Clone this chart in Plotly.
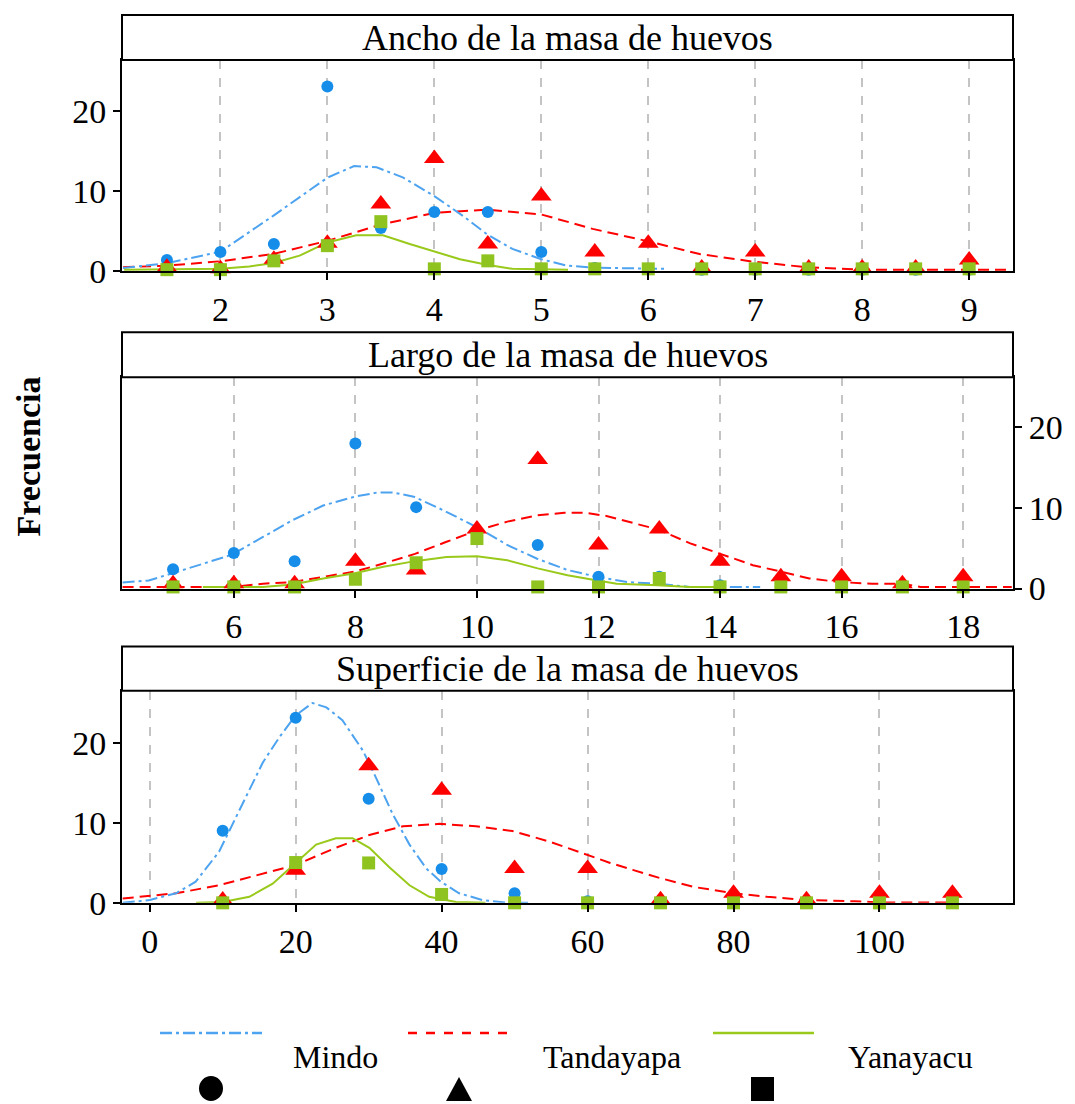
import plotly.graph_objects as go

W, H = 1075, 1104
HEFF = 1084  # effective vertical scale observed in the rendered page
FONT = "Liberation Serif"

# ---------------- Panel 1: Ancho ----------------
x1_pts = [1.5, 2, 2.5, 3, 3.5, 4, 4.5, 5, 5.5, 6, 6.5, 7, 7.5, 8, 8.5, 9]
mindo1 = [1.4, 2.4, 3.4, 23.1, 5.4, 7.4, 7.4, 2.4, 0.4, 0.3, 0.2, 0.2, 0.2, 0.2, 0.2, 0.2]
tanda1 = [0.5, 0.3, 1.5, 3.5, 8.4, 14.1, 3.4, 9.4, 2.4, 3.5, 0.4, 2.4, 0.4, 0.4, 0.4, 1.4]
yana1 = [0.2, 0.2, 1.3, 3.2, 6.2, 0.3, 1.3, 0.3, 0.3, 0.3, 0.3, 0.3, 0.3, 0.3, 0.3, 0.3]
m1_cx = [1.09, 1.5, 2.0, 2.49, 3.0, 3.25, 3.46, 3.71, 4.0, 4.27, 4.49, 4.73, 5.0, 5.24, 5.48, 6.0, 6.15]
m1_cy = [0.4, 1.0, 2.45, 6.9, 11.7, 13.15, 13.0, 11.7, 9.4, 6.9, 4.65, 2.8, 1.5, 0.7, 0.45, 0.3, 0.3]
t1_cx = [1.09, 1.5, 2.0, 2.49, 3.0, 3.49, 4.0, 4.49, 5.0, 5.48, 5.98, 6.48, 6.98, 7.48, 7.98, 9.0, 9.39]
t1_cy = [0.5, 0.7, 1.25, 2.15, 3.8, 5.8, 7.3, 7.7, 7.1, 5.3, 3.8, 2.15, 1.2, 0.5, 0.2, 0.2, 0.2]
g1_cx = [1.1, 2.0, 2.27, 2.49, 2.74, 3.0, 3.27, 3.52, 3.77, 4.0, 4.24, 4.49, 4.73, 5.25]
g1_cy = [0.2, 0.3, 0.6, 1.0, 1.95, 3.6, 4.5, 4.5, 3.4, 2.5, 1.5, 0.8, 0.3, 0.2]

# ---------------- Panel 2: Largo ----------------
x2_pts = [5, 6, 7, 8, 9, 10, 11, 12, 13, 14, 15, 16, 17, 18]
mindo2 = [2.4, 4.4, 3.4, 18.0, 10.1, 6.3, 5.4, 1.45, 1.45, 0.4, 0.2, 0.2, 0.2, 0.2]
tanda2 = [0.6, 0.6, 0.6, 3.4, 2.3, 7.4, 16.0, 5.4, 7.4, 3.4, 1.45, 1.45, 0.6, 1.45]
yana2 = [0.2, 0.2, 0.2, 1.15, 3.2, 6.2, 0.2, 0.2, 1.25, 0.2, 0.2, 0.2, 0.2, 0.2]
m2_cx = [4.17, 4.6, 4.95, 5.49, 5.97, 6.48, 6.97, 7.47, 7.99, 8.35, 8.63, 8.96, 9.45, 10.0, 10.5,
         10.99, 11.49, 11.98, 12.47, 12.97, 13.5, 14.66]
m2_cy = [0.75, 1.0, 1.8, 3.1, 4.2, 6.4, 8.5, 10.3, 11.4, 11.9, 11.9, 11.4, 9.7, 7.6, 5.4,
         3.7, 2.3, 1.45, 0.8, 0.6, 0.2, 0.2]
t2_cx = [4.17, 6.0, 6.48, 6.97, 7.47, 7.99, 8.46, 8.98, 9.5, 10.0, 10.5, 11.0, 11.44, 11.78, 12.13,
         12.59, 12.99, 13.51, 14.0, 14.54, 15.0, 15.47, 15.97, 16.5, 17.0, 17.3, 18.0, 18.8]
t2_cy = [0.2, 0.2, 0.6, 0.8, 1.45, 2.1, 3.1, 4.3, 5.8, 7.2, 8.3, 9.1, 9.4, 9.4, 9.0,
         8.1, 7.3, 5.6, 4.35, 2.9, 2.1, 1.25, 0.8, 0.6, 0.6, 0.2, 0.2, 0.2]
g2_cx = [5.49, 6.48, 6.97, 7.47, 7.99, 8.46, 8.98, 9.5, 10.0, 10.5, 11.0, 11.49, 11.98, 12.3, 12.97, 13.5, 14.0]
g2_cy = [0.2, 0.2, 0.5, 1.25, 1.9, 2.7, 3.4, 3.9, 4.0, 3.5, 2.5, 1.65, 1.0, 0.6, 0.4, 0.2, 0.2]

# ---------------- Panel 3: Superficie ----------------
x3_pts = [10, 20, 30, 40, 50, 60, 70, 80, 90, 100, 110]
mindo3 = [9.05, 23.2, 13.05, 4.25, 1.2, 0.2, 0.2, 0.2, 0.2, 0.2, 0.2]
tanda3 = [0.35, 4.1, 17.2, 14.1, 4.3, 4.3, 0.4, 1.2, 0.4, 1.2, 1.2]
yana3 = [0.0, 5.05, 5.0, 1.05, 0.0, 0.0, 0.0, 0.0, 0.0, 0.0, 0.0]
m3_cx = [-3.7, 0, 3.6, 6.3, 9.5, 12.7, 15.5, 17.8, 20, 22.3, 24.2, 26.4, 29.2, 31, 33.3, 35.6,
         37.9, 39.9, 42.4, 45.6, 49.3, 52]
m3_cy = [0, 0.35, 1.2, 2.65, 6.4, 12.3, 17.6, 20.8, 23.5, 25.05, 24.5, 22.9, 19.1, 15.7, 11.1, 7.3,
         4.3, 2.65, 1.2, 0.35, 0, 0]
t3_cx = [-3.7, 0, 3.6, 9.5, 15, 20, 25.5, 30.1, 34.7, 39.7, 44.7, 49.7, 54.7, 60, 63.1, 66.3,
         69.95, 74.5, 80, 84.6, 90.1, 96.6, 100, 110.3]
t3_cy = [0.55, 0.9, 1.2, 2.2, 3.5, 4.75, 6.9, 8.5, 9.6, 9.9, 9.6, 9.0, 7.7, 6.0, 5.0, 4.1,
         3.1, 2.0, 1.2, 0.75, 0.35, 0.2, 0.05, 0.05]
g3_cx = [6.35, 10, 13.65, 16.85, 20, 22.8, 25.5, 27.8, 30.1, 32.8, 35.6, 38.3, 42, 46]
g3_cy = [0, 0.1, 0.75, 2.4, 5.0, 7.3, 8.1, 8.1, 6.9, 4.5, 2.2, 0.75, 0.1, 0]

panel_titles = ["Ancho de la masa de huevos", "Largo de la masa de huevos", "Superficie de la masa de huevos"]
series_names = ["Mindo", "Tandayapa", "Yanayacu"]
y_label = "Frecuencia"

BLUE_L, BLUE_M = "#4da3f0", "#168de8"
RED = "#ff0000"
GREEN_L, GREEN_M = "#99c91a", "#8fc31f"
DASH_M = "12px,4px,3px,4px"
DASH_T = "11px,6px"


def px(x):
    return x / W


def py(y):
    return 1 - y / HEFF


fig = go.Figure()

panels = [
    (1, x1_pts, mindo1, tanda1, yana1, (m1_cx, m1_cy), (t1_cx, t1_cy), (g1_cx, g1_cy)),
    (2, x2_pts, mindo2, tanda2, yana2, (m2_cx, m2_cy), (t2_cx, t2_cy), (g2_cx, g2_cy)),
    (3, x3_pts, mindo3, tanda3, yana3, (m3_cx, m3_cy), (t3_cx, t3_cy), (g3_cx, g3_cy)),
]

for i, xp, mv, tv, yv, mc, tc, gc in panels:
    xa = "x" if i == 1 else f"x{i}"
    ya = "y" if i == 1 else f"y{i}"
    common = dict(xaxis=xa, yaxis=ya, showlegend=False, cliponaxis=False, hoverinfo="skip")
    fig.add_trace(go.Scatter(x=tc[0], y=tc[1], mode="lines",
                             line=dict(color=RED, width=2, dash=DASH_T), **common))
    fig.add_trace(go.Scatter(x=mc[0], y=mc[1], mode="lines",
                             line=dict(color=BLUE_L, width=2, dash=DASH_M), **common))
    fig.add_trace(go.Scatter(x=gc[0], y=gc[1], mode="lines",
                             line=dict(color=GREEN_L, width=2), **common))
    fig.add_trace(go.Scatter(x=xp, y=mv, mode="markers",
                             marker=dict(symbol="circle", size=12, color=BLUE_M), **common))
    fig.add_trace(go.Scatter(x=xp, y=tv, mode="markers",
                             marker=dict(symbol="triangle-up", size=18, color=RED), **common))
    fig.add_trace(go.Scatter(x=xp, y=yv, mode="markers",
                             marker=dict(symbol="square", size=13, color=GREEN_M), **common))

# pixel layout of panels: (strip_top, plot_top, plot_bottom)
rows = [(15, 60, 271), (332, 377, 588), (646, 690, 902)]
XL, XR = 122, 1013
xranges = [[1.08, 9.41], [4.16, 18.82], [-3.8, 118.3]]
yranges = [[0, 26.4], [0, 26.2], [0, 26.6]]
xticks = [list(range(2, 10)), list(range(6, 19, 2)), list(range(0, 101, 20))]

tickfont = dict(family=FONT, size=34, color="black")
layout = dict(
    width=W, height=H, margin=dict(l=0, r=0, t=0, b=0),
    paper_bgcolor="white", plot_bgcolor="white",
    font=dict(family=FONT, color="black"),
)
for k in range(3):
    st, pt, pb = rows[k]
    sx = "" if k == 0 else str(k + 1)
    layout[f"xaxis{sx}"] = dict(
        domain=[px(XL), px(XR)], anchor=f"y{sx}", range=xranges[k],
        tickmode="array", tickvals=xticks[k], ticktext=[str(v) for v in xticks[k]],
        showgrid=True, gridcolor="#c4c4c4", gridwidth=1.5, griddash="dash",
        showline=True, linecolor="black", linewidth=2, mirror=True,
        ticks="outside", ticklen=7, tickwidth=1.5, tickcolor="black",
        tickfont=tickfont, zeroline=False,
    )
    layout[f"yaxis{sx}"] = dict(
        domain=[py(pb), py(pt)], anchor=f"x{sx}", range=yranges[k],
        tickmode="array", tickvals=[0, 10, 20], ticktext=["0", "10", "20"],
        side="right" if k == 1 else "left",
        showgrid=False, zeroline=False,
        showline=True, linecolor="black", linewidth=2, mirror=True,
        ticks="outside", ticklen=7, tickwidth=1.5, tickcolor="black",
        tickfont=tickfont,
    )

shapes = []
annotations = []
for k in range(3):
    st, pt, pb = rows[k]
    shapes.append(dict(type="rect", xref="paper", yref="paper",
                       x0=px(XL), x1=px(XR), y0=py(pt), y1=py(st),
                       line=dict(color="black", width=2), fillcolor="white"))
    annotations.append(dict(xref="paper", yref="paper", x=px((XL + XR) / 2), y=py((st + pt) / 2),
                            text=panel_titles[k], showarrow=False, xanchor="center", yanchor="middle",
                            font=dict(family=FONT, size=36, color="black")))

annotations.append(dict(xref="paper", yref="paper", x=px(28), y=py(456), text=f"<b>{y_label}</b>",
                        textangle=-90, showarrow=False, xanchor="center", yanchor="middle",
                        font=dict(family=FONT, size=34, color="black")))

# bottom legend
leg_lines = [(160, 262, BLUE_L, DASH_M), (408, 508, RED, "dash"), (713, 814, GREEN_L, "solid")]
leg_text_x = [335, 612, 910]
LY_LINE, LY_TEXT, LY_MARK = 1032, 1056, 1088
for (a, b, c, d), tx, name in zip(leg_lines, leg_text_x, series_names):
    shapes.append(dict(type="line", xref="paper", yref="paper", x0=px(a), x1=px(b),
                       y0=py(LY_LINE), y1=py(LY_LINE), line=dict(color=c, width=2.5, dash=d)))
    annotations.append(dict(xref="paper", yref="paper", x=px(tx), y=py(LY_TEXT), text=name,
                            showarrow=False, xanchor="center", yanchor="middle",
                            font=dict(family=FONT, size=32, color="black")))
# legend symbols (black)
shapes.append(dict(type="circle", xref="paper", yref="paper", x0=px(199), x1=px(223),
                   y0=py(1100), y1=py(1075), fillcolor="black", line=dict(width=0)))
shapes.append(dict(type="path", xref="paper", yref="paper",
                   path=f"M {px(446)} {py(1100)} L {px(472)} {py(1100)} L {px(459)} {py(1076)} Z",
                   fillcolor="black", line=dict(width=0)))
shapes.append(dict(type="rect", xref="paper", yref="paper", x0=px(751), x1=px(774),
                   y0=py(1100), y1=py(1076), fillcolor="black", line=dict(width=0)))

layout["shapes"] = shapes
layout["annotations"] = annotations
fig.update_layout(**layout)
fig.write_html("out.html")
